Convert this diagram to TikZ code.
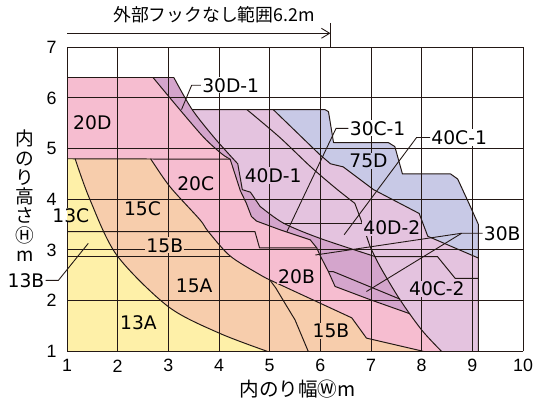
\documentclass[tikz,border=0pt]{standalone}
\usepackage{fontspec}
\setmainfont{DejaVu Sans}
\newfontfamily\cjk{Noto Sans CJK JP}
\newfontfamily\tickfont{Liberation Sans}
\usetikzlibrary{arrows.meta}
\definecolor{cyel}{HTML}{FEF0A8}
\definecolor{cpch}{HTML}{F7CDAC}
\definecolor{cpnk}{HTML}{F6BDD0}
\definecolor{cdpu}{HTML}{D4A5CC}
\definecolor{clpu}{HTML}{E4C3DF}
\definecolor{cblu}{HTML}{C8C9E6}
\definecolor{cln}{HTML}{231815}
\tikzset{
  bnd/.style={draw=cln, line width=0.55pt, line join=round},
  grd/.style={draw=cln, line width=0.55pt},
  ptr/.style={draw=cln, line width=0.5pt},
  lbl/.style={font=\fontsize{10.5}{10.5}\selectfont, inner sep=0.6pt},
  tk/.style={font=\tickfont\fontsize{10}{10}\selectfont, inner sep=0pt},
  cjkt/.style={font=\cjk\fontsize{10}{10}\selectfont, inner sep=0pt},
  cjkv/.style={font=\cjk\fontsize{10.5}{10.8}\selectfont, inner sep=0pt, align=center},
}
\def\Ccthirteen{(1.16,4.8) (1.45,4.0) (1.98,2.9) (3.0,1.88) (4.0,1.36) (4.95,1.0)}
\def\Ccfifteen{(2.65,4.8) (3.03,4.25) (3.62,3.6) (3.79,3.36) (4.22,2.88) (4.81,2.51) (5.0,2.41)}
\def\Pctop{(2.70,6.40) (3.20,5.80) (3.70,5.22) (4.05,4.90) (4.22,4.79)}
\def\Uctop{(3.11,6.40) (3.47,5.77) (3.92,5.20) (4.37,4.70)}
\def\Uclow{(4.81,3.86) (5.27,3.53) (5.99,3.23) (7.08,2.87)}
\def\Lctop{(4.55,5.77) (5.2,5.22) (5.8,4.65) (6.3,4.22) (6.68,3.92)}
\def\Lclow{(6.98,3.07) (7.18,2.67) (7.57,2.02) (8.0,1.42) (8.39,1.0)}
\begin{document}
\begin{tikzpicture}[x=1cm,y=1cm]
\useasboundingbox (-0.3223,0.043) rectangle (10.315,7.933);
% ---------- fills
\fill[cblu] (1,1) -- (1,5.77) -- (6.09,5.77) -- (6.16,5.73) -- (6.26,5.12) -- (7.34,5.12) -- (7.47,5.04) -- (7.62,4.50) -- (8.57,4.50) -- (8.71,4.40) -- (8.95,3.88) -- (9.12,3.50) -- (9.12,1) -- cycle;
\fill[clpu] (1,1) -- (1,5.77) -- (5.07,5.77) -- (5.99,4.88) -- (6.20,4.70) -- (6.45,4.64) -- (7.05,4.19) -- (7.95,3.72) -- (8.12,3.27) -- (9.12,2.84) -- (9.12,1) -- cycle;
\fill[cdpu] (1,1) -- (1,6.4) -- plot[smooth] coordinates {\Uctop} -- (4.46,4.19) -- (4.62,4.14) -- plot[smooth] coordinates {\Uclow} -- plot[smooth] coordinates {(7.08,2.87) (7.18,2.67) (7.57,2.02) (8.0,1.42) (8.39,1.0)} -- cycle;
\fill[cpnk] (1,1) -- (1,6.4) -- plot[smooth] coordinates {\Pctop} -- (4.34,4.42) -- (4.42,4.17) -- (4.54,3.92) -- (4.64,3.66) -- (4.74,3.57) -- (5.2,3.40) -- (5.8,3.2) -- (5.93,3.04) -- (5.99,2.90) -- (6.16,2.57) -- (6.29,2.28) -- (6.98,2.02) -- (7.77,1.74) -- plot[smooth] coordinates {(7.77,1.74) (8.0,1.42) (8.39,1.0)} -- cycle;
\fill[cpch] (1,1) -- (1,4.8) -- plot[smooth] coordinates {\Ccfifteen} -- (6.62,1.66) -- (6.91,1.26) -- (8.03,1.0) -- cycle;
\fill[cyel] (1,1) -- (1,4.8) -- plot[smooth] coordinates {\Ccthirteen} -- cycle;
% ---------- grid
\foreach \v in {2,...,10} \draw[grd] (\v,1) -- (\v,7);
\draw[grd] (1,1) -- (1,3.55);
\draw[grd] (1,3.82) -- (1,7);
\foreach \v in {1,...,7} \draw[grd] (1,\v) -- (10,\v);
% ---------- boundaries
\draw[bnd] (1,4.8) -- (4.22,4.79);
\draw[bnd] (1,2.88) -- (4.22,2.88);
\draw[bnd] plot[smooth] coordinates {\Ccthirteen};
\draw[bnd] plot[smooth] coordinates {\Ccfifteen} -- (6.62,1.66) -- (6.91,1.26) -- (8.03,1.0);
\draw[bnd] (5.0,2.41) -- (5.12,2.25) -- (5.30,1.95) -- (5.50,1.62) -- (5.76,1.0);
\draw[bnd] (1,3.36) -- (4.71,3.36) -- (4.80,3.04) -- (5.93,3.04) -- (5.99,2.90) -- (6.16,2.57) -- (6.29,2.28) -- (6.98,2.02) -- (7.77,1.74);
\draw[bnd] (6.16,2.57) -- (6.26,2.57) -- (7.57,2.03);
\draw[bnd] (1,6.4) -- (3.11,6.4);
\draw[bnd] plot[smooth] coordinates {\Pctop} -- (4.34,4.42) -- (4.42,4.17) -- (4.54,3.92) -- (4.64,3.66) -- (4.74,3.57) -- (5.2,3.40) -- (5.8,3.2) -- (5.93,3.04);
\draw[bnd] plot[smooth] coordinates {\Uctop} -- (4.46,4.19) -- (4.62,4.14) -- plot[smooth] coordinates {\Uclow} -- (8.31,2.87) -- (8.66,2.44) -- (9.12,2.44);
\draw[bnd] (5.27,3.53) -- (6.82,3.53);
\draw[bnd] plot[smooth] coordinates {\Lctop} -- (6.80,3.60) -- plot[smooth] coordinates {\Lclow};
\draw[bnd] (3.47,5.77) -- (6.09,5.77) -- (6.16,5.73) -- (6.26,5.12) -- (7.34,5.12) -- (7.47,5.04) -- (7.62,4.50) -- (8.57,4.50) -- (8.71,4.40) -- (8.95,3.88) -- (9.12,3.50) -- (9.12,1);
\draw[bnd] (5.07,5.77) -- (5.99,4.88) -- (6.20,4.70) -- (6.45,4.64) -- (7.05,4.19) -- (7.95,3.72) -- (8.12,3.27) -- (9.12,2.84);
% ---------- region labels
\node[lbl, fill=cpnk] (l20D) at (1.50,5.51) {20D};
\node[lbl, fill=white] (l30D1) at (4.23,6.25) {30D-1};
\node[lbl, fill=cpnk] (l20C) at (3.54,4.30) {20C};
\node[lbl, fill=clpu] (l40D1) at (5.07,4.47) {40D-1};
\node[lbl, fill=white] (l30C1) at (7.13,5.40) {30C-1};
\node[lbl, fill=cblu] (l75D) at (6.95,4.75) {75D};
\node[lbl, fill=white] (l40C1) at (8.74,5.22) {40C-1};
\node[lbl, fill=clpu] (l40D2) at (7.41,3.43) {40D-2};
\node[lbl, fill=white] (l30B) at (9.59,3.33) {30B};
\node[lbl, fill=cpnk] (l20B) at (5.53,2.48) {20B};
\node[lbl, fill=clpu] (l40C2) at (8.30,2.23) {40C-2};
\node[lbl, fill=cpch] (l15Bb) at (6.21,1.41) {15B};
\node[lbl, fill=cpch] (l15A) at (3.51,2.30) {15A};
\node[lbl, fill=cyel] (l13A) at (2.41,1.57) {13A};
\node[lbl, fill=cpch] (l15Bm) at (2.93,3.09) {15B};
\node[lbl, fill=cpch] (l15C) at (2.49,3.81) {15C};
\node[lbl] (l13C) at (1.075,3.68) {13C};
\node[lbl] (l13B) at (0.19,2.40) {13B};
% ---------- pointers
\coordinate (b30D) at (3.46,6.29); \coordinate (e30D) at (3.26,5.77);
\draw[ptr] (l30D1.west) -- (l30D1.west -| b30D) -- (e30D);
\coordinate (b30C) at (6.31,5.40); \coordinate (e30C) at (5.34,3.36);
\draw[ptr] (l30C1.west) -- (l30C1.west -| b30C) -- (e30C);
\coordinate (b40C) at (7.90,5.22); \coordinate (e40C) at (6.47,3.30);
\draw[ptr] (l40C1.west) -- (l40C1.west -| b40C) -- (e40C);
\coordinate (b30B) at (8.79,3.33); \coordinate (e30Ba) at (5.90,2.90); \coordinate (e30Bb) at (6.91,2.18);
\draw[ptr] (l30B.west) -- (l30B.west -| b30B) -- (e30Ba);
\draw[ptr] (l30B.west -| b30B) -- (e30Bb);
\coordinate (b13B) at (0.83,2.40); \coordinate (e13B) at (1.42,3.13);
\draw[ptr] (l13B.east) -- (l13B.east -| b13B) -- (e13B);
% ---------- ticks
\foreach \v in {1,...,7} \node[tk, anchor=east] (ty\v) at (0.80,\v) {\v};
\foreach \v in {1,...,10} \node[tk] (tx\v) at (\v,0.714) {\v};
% ---------- axis titles
\node[cjkv] (ylab) at (0.17,4.07) {内\\の\\り\\高\\さ\\Ⓗ\\m};
\node[cjkt, font=\cjk\fontsize{11}{11}\selectfont] (xlab) at (5.55,0.25) {内のり幅Ⓦm};
\node[cjkt] (ttl) at (3.90,7.645) {外部フックなし範囲6.2m};
\coordinate (aL) at (1,7.276); \coordinate (aR) at (6.2,7.276);
\draw[ptr, -{Straight Barb[length=4.6pt,width=5.6pt]}] (aL) -- (aR);
\coordinate (vT) at (6.2,7.48); \coordinate (vB) at (6.2,7);
\draw[ptr] (vT) -- (vB);
\end{tikzpicture}
\end{document}
